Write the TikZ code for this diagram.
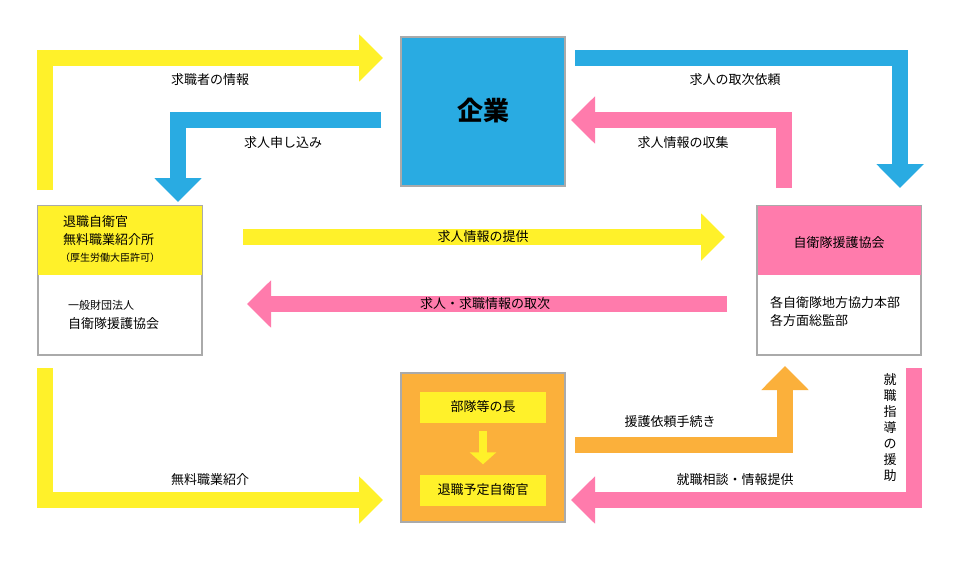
\documentclass[tikz,border=0pt]{standalone}
\usepackage{fontspec}
\setmainfont{Noto Sans CJK JP}
\usetikzlibrary{arrows.meta,calc}
\definecolor{myyellow}{RGB}{255,241,42}
\definecolor{myblue}{RGB}{41,171,226}
\definecolor{mypink}{RGB}{255,123,172}
\definecolor{myorange}{RGB}{251,176,59}
\definecolor{myframe}{RGB}{170,170,170}
\tikzset{
  flowpic/.style={x=1pt,y=-1pt}
  ,box/.style={draw=myframe,line width=2pt,minimum width=164pt,minimum height=149pt,inner sep=0pt}
  ,inbox/.style={fill=myyellow,minimum width=126pt,minimum height=31pt,inner sep=0pt,font=\fontsize{13}{15}\selectfont}
  ,flow/.style={line width=16pt,line join=miter,-{Triangle[width=46pt,length=24pt]}}
  ,lbl/.style={font=\fontsize{13}{15}\selectfont,inner sep=0pt}
  ,txt/.style={font=\fontsize{13}{18}\selectfont,inner sep=0pt,anchor=west,align=left}
}
\begin{document}
\begin{tikzpicture}[flowpic]
  \fill[white] (0,0) rectangle (960,560);
  % boxes
  \node[box,fill=myblue] (kigyo) at (483,111) {\fontsize{26}{30}\selectfont\bfseries 企業};
  \node[box,fill=white] (left) at (120,280) {};
  \fill[myyellow] (38,206) rectangle (202,275);
  \node[txt] (leftttl) at (63,231) {退職自衛官\\無料職業紹介所};
  \node[txt,font=\fontsize{10}{12}\selectfont] (leftsub) at (60,258) {（厚生労働大臣許可）};
  \node[txt,font=\fontsize{11}{13}\selectfont] (leftorg) at (68,305) {一般財団法人};
  \node[txt] (leftname) at (68,324) {自衛隊援護協会};
  \node[box,fill=white] (right) at (839,280) {};
  \fill[mypink] (758,206) rectangle (921,275);
  \node[lbl] (rightttl) at (839,243) {自衛隊援護協会};
  \node[txt] (rightname) at (770,312) {各自衛隊地方協力本部\\各方面総監部};
  \node[box,fill=myorange] (butai) at (483,447) {};
  \node[inbox] (chou) at (483,407) {部隊等の長};
  \node[inbox] (taishoku) at (483,490) {退職予定自衛官};
  \draw[myyellow,line width=8pt,-{Triangle[width=26pt,length=12pt]}] ($(chou.south)+(0,8)$) -- ($(taishoku.north)+(0,-10)$);
  % arrows
  \draw[flow,myyellow] (45,190) -- (45,58) -- (383,58);
  \node[lbl] (l1) at (210,80) {求職者の情報};
  \draw[flow,myblue] (381,120) -- (178,120) -- (178,202);
  \node[lbl] (l2) at (283,143) {求人申し込み};
  \draw[flow,myblue] (575,58) -- (900,58) -- (900,188);
  \node[lbl] (l3) at (735,80) {求人の取次依頼};
  \draw[flow,mypink] (784,188) -- (784,120) -- (571,120);
  \node[lbl] (l4) at (683,143) {求人情報の収集};
  \draw[flow,myyellow] (243,237) -- (725,237);
  \node[lbl] (l5) at (483,237) {求人情報の提供};
  \draw[flow,mypink] (727,304) -- (247,304);
  \node[lbl] (l6) at (485,304) {求人・求職情報の取次};
  \draw[flow,myyellow] (45,368) -- (45,500) -- (383,500);
  \node[lbl] (l7) at (210,480) {無料職業紹介};
  \draw[flow,myorange] (575,445) -- (785,445) -- (785,366);
  \node[lbl] (l8) at (670,422) {援護依頼手続き};
  \draw[flow,mypink] (914,368) -- (914,500) -- (571,500);
  \node[lbl] (l9) at (735,480) {就職相談・情報提供};
  \node[lbl,align=center,font=\fontsize{13}{16}\selectfont] (l10) at (890,428) {就\\職\\指\\導\\の\\援\\助};
\end{tikzpicture}
\end{document}
